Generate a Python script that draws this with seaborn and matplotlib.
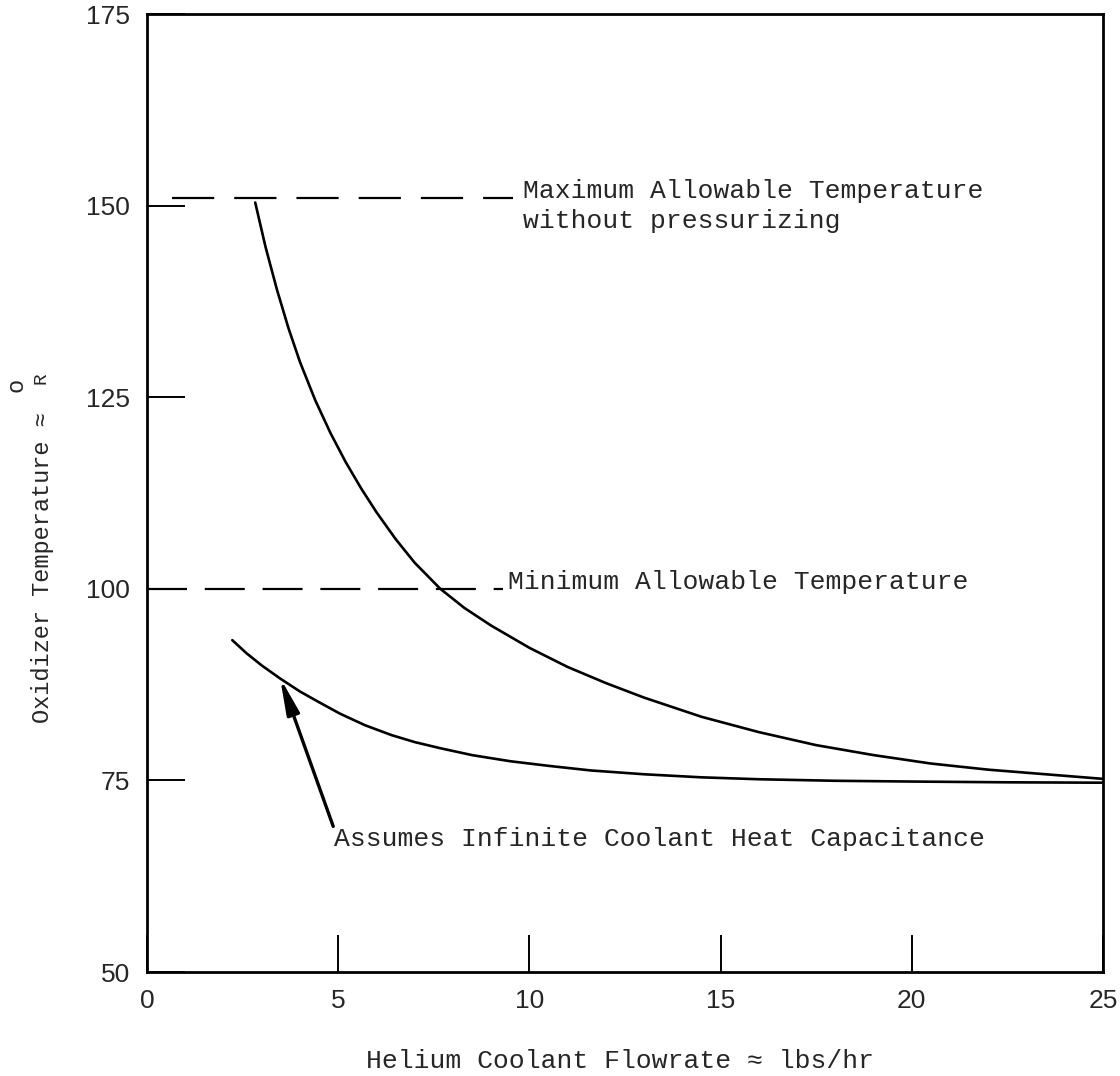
import matplotlib
matplotlib.use("Agg")
import matplotlib.pyplot as plt
import seaborn as sns
import pandas as pd

# Helium coolant flowrate (lbs/hr) vs oxidizer temperature (deg R)
flow_actual = [2.83, 3.10, 3.40, 3.70, 4.00, 4.40, 4.80, 5.20, 5.60, 6.00, 6.50, 7.00,
               7.67, 8.30, 9.00, 10.0, 11.0, 12.0, 13.0, 14.5, 16.0, 17.5, 19.0,
               20.5, 22.0, 23.5, 25.0]
temp_actual = [150.4, 144.6, 139.0, 134.0, 129.6, 124.6, 120.3, 116.5, 113.1, 110.0,
               106.5, 103.4, 100.0, 97.5, 95.2, 92.3, 89.8, 87.7, 85.8, 83.3, 81.3,
               79.6, 78.3, 77.2, 76.4, 75.8, 75.2]

flow_infinite = [2.23, 2.60, 3.00, 3.48, 4.00, 4.50, 5.05, 5.70, 6.40, 7.00, 7.67,
                 8.50, 9.50, 10.5, 11.6, 13.0, 14.5, 16.0, 18.0, 20.0, 22.5, 25.0]
temp_infinite = [93.3, 91.6, 90.0, 88.3, 86.6, 85.2, 83.7, 82.2, 80.9, 80.0, 79.2,
                 78.3, 77.5, 76.9, 76.3, 75.8, 75.4, 75.15, 74.95, 74.85, 74.75, 74.7]

# Reference temperature limits
max_temp = 151.0
min_temp = 100.0
max_span = [0.65, 9.58]
min_span = [0.0, 9.30]

x_ticks = [0, 5, 10, 15, 20, 25]
y_ticks = [50, 75, 100, 125, 150, 175]

label_max = ["Maximum Allowable Temperature", "without pressurizing"]
label_min = "Minimum Allowable Temperature"
label_inf = "Assumes Infinite Coolant Heat Capacitance"
arrow_tip = (3.48, 88.4)
arrow_tail = (4.87, 69.0)

sns.set_theme(style="white")
mono = ["Liberation Mono", "DejaVu Sans Mono"]
plt.rcParams["font.family"] = mono

fig = plt.figure(figsize=(11.2, 10.76), dpi=100)
ax = fig.add_axes([147 / 1120, 104 / 1076, 956 / 1120, 958 / 1076])

df_a = pd.DataFrame({"flow": flow_actual, "temp": temp_actual})
df_i = pd.DataFrame({"flow": flow_infinite, "temp": temp_infinite})
sns.lineplot(data=df_a, x="flow", y="temp", ax=ax, color="black", lw=1.9, sort=False)
sns.lineplot(data=df_i, x="flow", y="temp", ax=ax, color="black", lw=1.9, sort=False)

ax.plot(max_span, [max_temp, max_temp], color="black", lw=1.6, linestyle=(0, (19, 9)))
ax.plot(min_span, [min_temp, min_temp], color="black", lw=1.6, linestyle=(0, (18, 8)))

ax.set_xlim(0, 25)
ax.set_ylim(50, 175)
ax.set_xticks(x_ticks)
ax.set_yticks(y_ticks)
ax.set_xticklabels([str(v) for v in x_ticks], family=["Liberation Sans", "DejaVu Sans"], fontsize=19)
ax.set_yticklabels([str(v) for v in y_ticks], family=["Liberation Sans", "DejaVu Sans"], fontsize=19)
ax.tick_params(axis="both", direction="in", length=27, width=1.4, color="black", pad=12,
               bottom=True, left=True, top=False, right=False)

for s in ax.spines.values():
    s.set_color("black")
    s.set_linewidth(2.0)

ax.set_xlabel("Helium Coolant Flowrate ≈ lbs/hr", fontsize=19, family=mono)
ax.set_ylabel("Oxidizer Temperature ≈", fontsize=17, family=mono)
ax.xaxis.set_label_coords(0.495, -0.08)
ax.yaxis.set_label_coords(-0.097, 0.422)
# degree mark over the R of the unit
ax.text(-0.137, 0.613, "o", transform=ax.transAxes, rotation=90, fontsize=17,
        ha="center", va="center", family=mono)
ax.text(-0.111, 0.620, "R", transform=ax.transAxes, rotation=90, fontsize=14,
        ha="center", va="center", family=mono)

ax.text(9.84, max_temp, label_max[0], fontsize=19, va="baseline", ha="left", family=mono)
ax.text(9.84, 147.1, label_max[1], fontsize=19, va="baseline", ha="left", family=mono)
ax.text(9.45, min_temp, label_min, fontsize=19, va="baseline", ha="left", family=mono)
ax.text(4.90, 66.5, label_inf, fontsize=19, va="baseline", ha="left", family=mono)

ax.annotate("", xy=arrow_tip, xytext=arrow_tail,
            arrowprops=dict(arrowstyle="-|>,head_length=1.8,head_width=0.32",
                            color="black", lw=2.4, shrinkA=0, shrinkB=0))

fig.savefig("out.png", dpi=100)
